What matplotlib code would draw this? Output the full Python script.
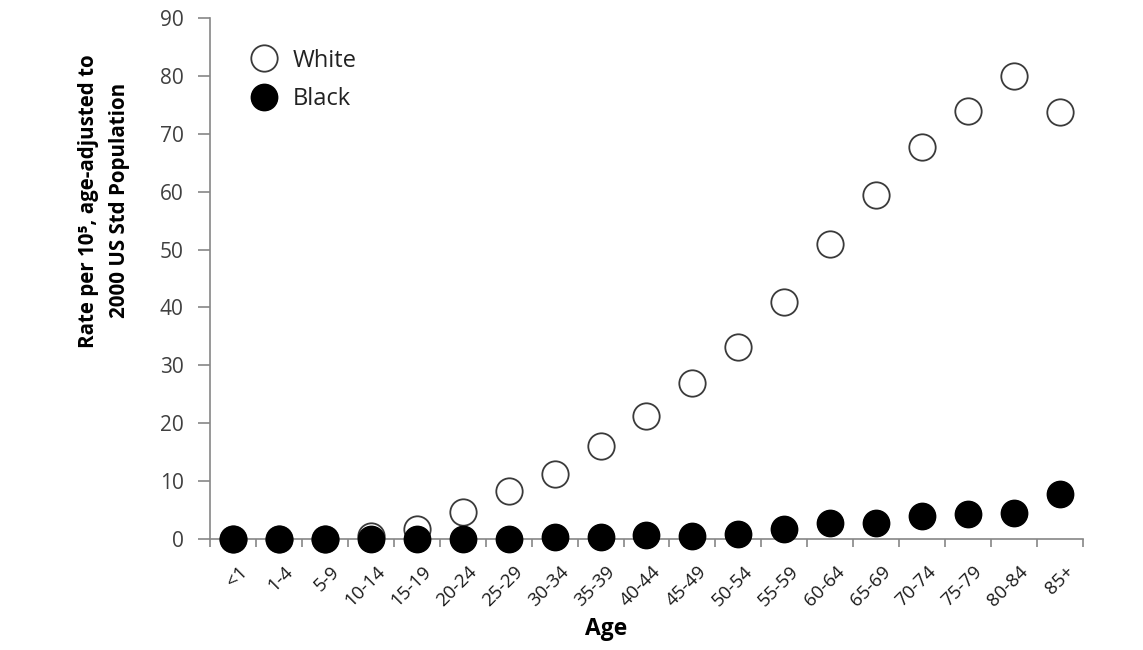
import numpy as np
import matplotlib.pyplot as plt
import matplotlib.transforms as mtransforms
from matplotlib.ticker import MultipleLocator

plt.rcParams['font.family'] = ['Open Sans', 'DejaVu Sans']

ages = ['<1', '1-4', '5-9', '10-14', '15-19', '20-24', '25-29', '30-34', '35-39',
        '40-44', '45-49', '50-54', '55-59', '60-64', '65-69', '70-74', '75-79',
        '80-84', '85+']
white = [0, 0, 0, 0.5, 1.8, 4.7, 8.3, 11.2, 16.0, 21.2, 27.0, 33.2, 41.0,
         51.0, 59.5, 67.7, 74.0, 80.0, 73.8]
black = [0, 0, 0, 0, 0, 0, 0, 0.4, 0.4, 0.7, 0.6, 0.9, 1.8, 2.7, 2.7, 4.0,
         4.3, 4.5, 7.7]

axis_col = '#868686'
text_col = '#404040'

fig = plt.figure(figsize=(11.43, 6.5), dpi=100)
ax = fig.add_axes([0.1837, 0.1708, 0.7638, 0.8015])

x = np.arange(len(ages))
ax.plot(x, white, 'o', ms=19, mfc='white', mec='#3a3a3a', mew=1.3,
        label='White', clip_on=False, zorder=3)
ax.plot(x, black, 'o', ms=19, mfc='black', mec='black', mew=1.0,
        label='Black', clip_on=False, zorder=4)

ax.set_xlim(-0.5, len(ages) - 0.5)
ax.set_ylim(0, 90)
ax.yaxis.set_major_locator(MultipleLocator(10))

# category labels centred on points, ticks between them (Excel style)
ax.set_xticks(x)
ax.set_xticklabels(ages, rotation=45, ha='right', rotation_mode='anchor',
                   fontsize=13.5, color='#1a1a1a')
ax.tick_params(axis='x', which='major', length=0, pad=17)
shift = mtransforms.ScaledTranslation(5 / 100, 0, fig.dpi_scale_trans)
for lbl in ax.get_xticklabels():
    lbl.set_transform(lbl.get_transform() + shift)
ax.set_xticks(np.arange(len(ages) + 1) - 0.5, minor=True)
ax.tick_params(axis='x', which='minor', length=6, direction='out',
               color=axis_col, width=1.2)
ax.tick_params(axis='y', length=9, direction='out', color=axis_col, width=1.2,
               labelsize=15, labelcolor=text_col, pad=10)

for s in ['top', 'right']:
    ax.spines[s].set_visible(False)
for s in ['left', 'bottom']:
    ax.spines[s].set_color(axis_col)
    ax.spines[s].set_linewidth(1.2)

ax.set_xlabel('Age', fontsize=16.5, fontweight='bold')
ax.xaxis.set_label_coords(0.454, -0.15)
ax.set_ylabel('Rate per 10\u2075, age-adjusted to\n2000 US Std Population',
              fontsize=14.8, fontweight='bold', linespacing=1.6)
ax.yaxis.set_label_coords(-0.092, 0.649)

ax.legend(loc='upper left', bbox_to_anchor=(0.02, 0.982), frameon=False,
          fontsize=17, labelcolor='#222222', handletextpad=0.55,
          labelspacing=0.6, markerscale=1.0, handlelength=1.3)

fig.savefig('out.png', dpi=100)
